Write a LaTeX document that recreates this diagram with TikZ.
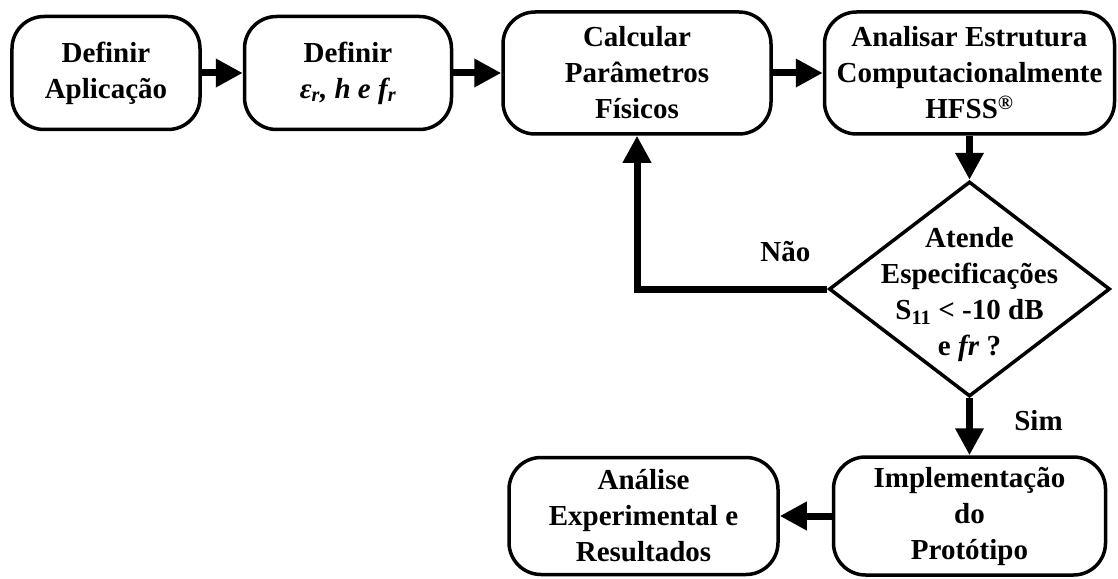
\documentclass[tikz,border=0pt]{standalone}
\usepackage{fontspec}
\setmainfont{Liberation Serif}
\usetikzlibrary{positioning}
\usetikzlibrary{arrows.meta}
\usetikzlibrary{shapes.geometric}

\begin{document}
\begin{tikzpicture}[x=1pt,y=1pt]
      \tikzset{rblock/.style={draw, line width=3.5pt, rounded corners=32pt, align=center,
        font=\fontsize{29}{36}\selectfont\bfseries}};
      \tikzset{dblock/.style={draw, diamond, line width=3.5pt, minimum width=281pt,
        minimum height=215pt, inner sep=0pt}};
      \tikzset{flow/.style={line width=7pt, -{Triangle[length=27pt,width=27pt]}}};
      \tikzset{lbl/.style={font=\fontsize{29}{36}\selectfont\bfseries}};
      \useasboundingbox (-106,-505) rectangle (1012,73);

      \node[rblock, minimum width=188pt, minimum height=113pt](defApp) at (0,0){Definir\\Aplicação};
      \node[rblock, minimum width=207pt, minimum height=113pt, right=41pt of defApp](defParam)
        {Definir\\{\itshape ε\textsubscript{r}, h e f\textsubscript{r}}};
      \node[rblock, minimum width=268pt, minimum height=122pt, right=48pt of defParam](calcPar)
        {Calcular\\Parâmetros\\Físicos};
      \node[rblock, minimum width=290pt, minimum height=122pt, right=50pt of calcPar](anaHFSS)
        {Analisar Estrutura\\Computacionalmente\\HFSS\textsuperscript{®}};

      % decisao
      \node[dblock, below=44pt of anaHFSS](atende){};
      \node[lbl, align=center, yshift=-6pt](atendeTxt) at (atende)
        {Atende\\Especificações\\S\textsubscript{11} < -10 dB\\e \textit{fr} ?};

      \node[rblock, minimum width=272pt, minimum height=118pt, below=57pt of atende](implProt)
        {Implementação\\do\\Protótipo};
      \node[rblock, minimum width=269pt, minimum height=117pt, left=52pt of implProt](anaExp)
        {Análise\\Experimental e\\Resultados};

      % fluxo principal
      \draw[flow] (defApp.east) -- (defParam.west);
      \draw[flow] (defParam.east) -- (calcPar.west);
      \draw[flow] (calcPar.east) -- (anaHFSS.west);
      \draw[flow] (anaHFSS.south) -- (atende.north);
      \draw[flow] (atende.south) -- node[lbl, right=38pt, yshift=6pt]{Sim} (implProt.north);
      \draw[flow] (implProt.west) -- (anaExp.east);

      % retorno
      \draw[flow] (atende.west) -| node[lbl, pos=0.11, above=20pt]{Não} (calcPar.south);
\end{tikzpicture}
\end{document}
